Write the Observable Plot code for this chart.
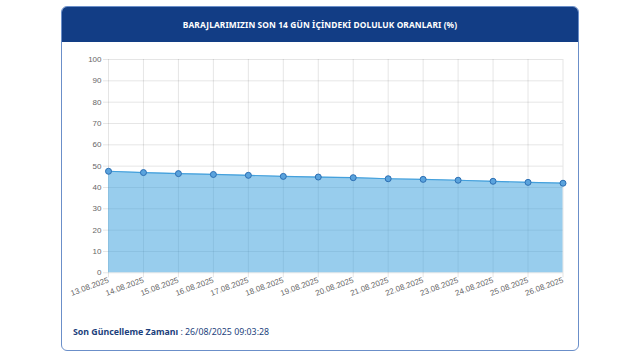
<!DOCTYPE html>
<html>
<head>
<meta charset="utf-8">
<script src="https://cdn.jsdelivr.net/npm/d3@7"></script>
<script src="https://cdn.jsdelivr.net/npm/@observablehq/plot@0.6"></script>
<style>
  html, body { margin: 0; padding: 0; background: #fff; }
  body { width: 640px; height: 352px; position: relative; overflow: hidden; font-family: "Noto Sans", Lato, sans-serif; }
  #card { position: absolute; left: 61px; top: 6px; width: 516px; height: 343px; border: 1px solid #6b8fc9; border-radius: 6px; background: #fff; overflow: hidden; }
  #head { position: absolute; left: 0; top: 0; width: 100%; height: 35px; background: #123d85; color: #fff; font-weight: 700; font-size: 8.4px; text-align: center; line-height: 35px; letter-spacing: 0.1px; }
  #chart { position: absolute; left: 0; top: 35px; }
  #foot { position: absolute; left: 11px; top: 319px; font-size: 8.8px; color: #1c3f7c; }
  #foot b { font-weight: 700; }
</style>
</head>
<body>
<div id="card">
  <div id="head">BARAJLARIMIZIN SON 14 GÜN İÇİNDEKİ DOLULUK ORANLARI (%)</div>
  <div id="chart"></div>
  <div id="foot"><b>Son Güncelleme Zamanı</b> : 26/08/2025 09:03:28</div>
</div>
<script>
const dates = ["13.08.2025","14.08.2025","15.08.2025","16.08.2025","17.08.2025","18.08.2025","19.08.2025",
               "20.08.2025","21.08.2025","22.08.2025","23.08.2025","24.08.2025","25.08.2025","26.08.2025"];
const values = [47.6, 47.0, 46.5, 46.1, 45.7, 45.2, 44.9, 44.6, 44.1, 43.8, 43.4, 42.9, 42.4, 42.0];
const yTicks = [0,10,20,30,40,50,60,70,80,90,100];

const data = dates.map((d, i) => ({date: d, value: values[i]}));

const chart = Plot.plot({
  width: 516,
  height: 280,
  marginLeft: 46,
  marginRight: 15.5,
  marginTop: 17,
  marginBottom: 49.7,
  style: {fontFamily: "Liberation Sans, Arial, sans-serif", fontSize: "8px", color: "#666", background: "transparent"},
  x: {type: "point", domain: dates, padding: 0, inset: 0, round: false},
  y: {domain: [0, 100], inset: 0},
  marks: [
    Plot.gridX(dates, {stroke: "#000", strokeOpacity: 0.1}),
    Plot.gridY(yTicks, {stroke: "#000", strokeOpacity: 0.1}),
    Plot.areaY(data, {x: "date", y: "value", fill: "#3aa0dc", fillOpacity: 0.52}),
    Plot.lineY(data, {x: "date", y: "value", stroke: "#44a0dc", strokeWidth: 1.2}),
    Plot.dot(data, {x: "date", y: "value", r: 3, fill: "#5aa3dd", stroke: "#2d6fb3", strokeWidth: 1}),
    Plot.axisY(yTicks, {tickSize: 5, tickPadding: 2, stroke: "#000", strokeOpacity: 0.1, fill: "#666", label: null}),
    Plot.axisX(dates, {tickSize: 5, tickPadding: 2, tickRotate: -20, stroke: "#000", strokeOpacity: 0.1, fill: "#666", label: null})
  ]
});
document.getElementById("chart").appendChild(chart);
</script>
</body>
</html>
